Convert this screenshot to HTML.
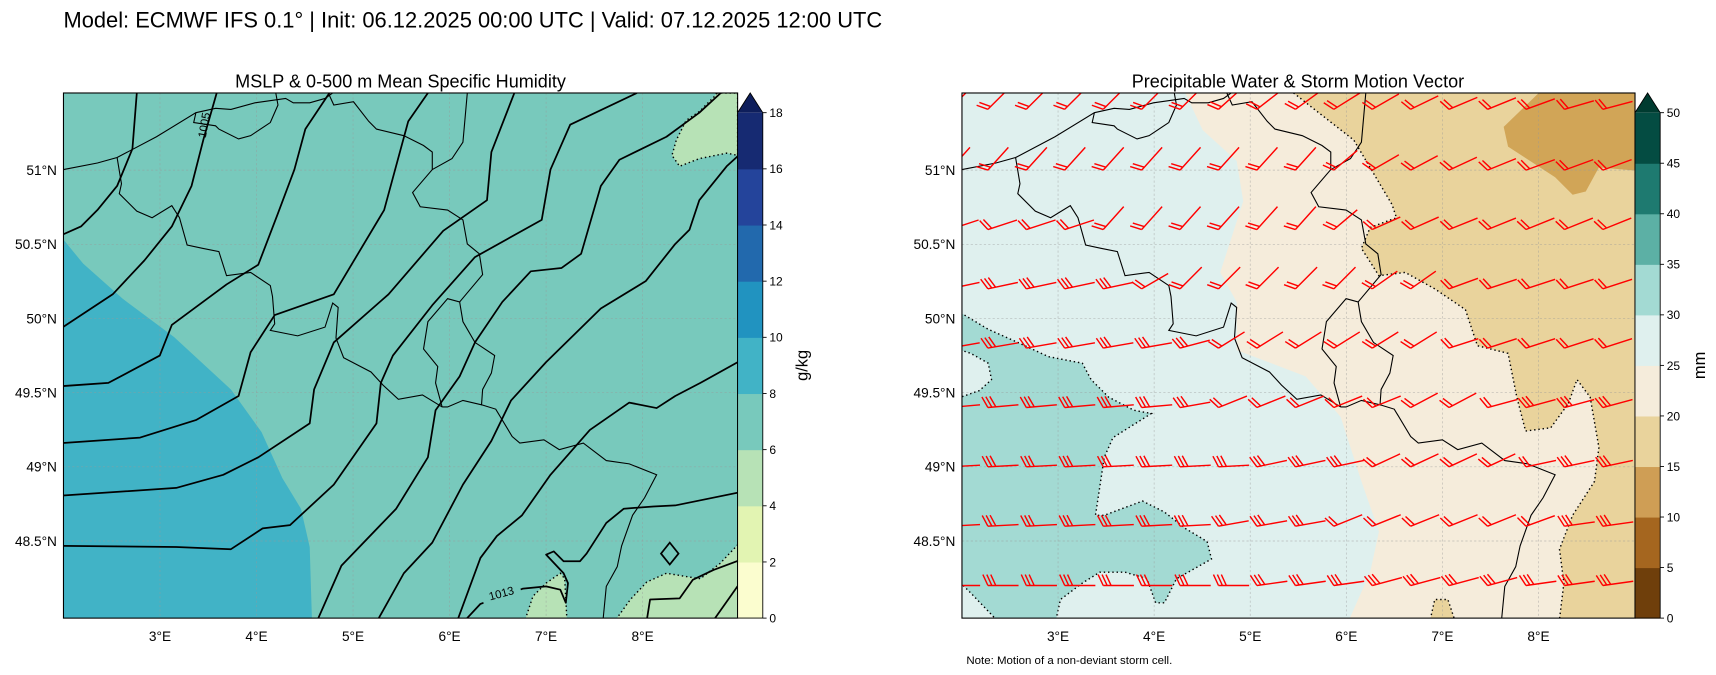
<!DOCTYPE html>
<html><head><meta charset="utf-8">
<style>
html,body{margin:0;padding:0;background:#fff;}
svg{display:block;font-family:"Liberation Sans","DejaVu Sans",sans-serif;}
</style></head>
<body>
<svg id="fig" width="1716" height="675" viewBox="0 0 1568 617" preserveAspectRatio="none" xmlns="http://www.w3.org/2000/svg">
<defs>
<clipPath id="clipL"><rect x="58" y="85" width="616" height="480"/></clipPath>
<clipPath id="clipR"><rect x="879" y="85" width="615" height="480"/></clipPath>
</defs>
<rect x="0" y="0" width="1568" height="617" fill="#fff"/>
<text x="58" y="25" font-size="20" fill="#000">Model: ECMWF IFS 0.1° | Init: 06.12.2025 00:00 UTC | Valid: 07.12.2025 12:00 UTC</text>
<text x="366" y="80" font-size="16.5" text-anchor="middle">MSLP &amp; 0-500 m Mean Specific Humidity</text>
<text x="1186" y="80" font-size="16.5" text-anchor="middle">Precipitable Water &amp; Storm Motion Vector</text>
<text x="883" y="607" font-size="10.5">Note: Motion of a non-deviant storm cell.</text>

<g id="left">
  <g clip-path="url(#clipL)">
    <rect x="58" y="85" width="616" height="480" fill="#78c9bc"/>
    <polygon fill="#41b3c6" points="58,219 76,241 112,273 159,308 211,356 239,395 258,437 275,465 283,500 285,565 58,565"/>
    <polygon fill="#b7e2b6" stroke="#000" stroke-width="1.3" stroke-dasharray="1.3 2.6" points="655,85 653,88 639,102 627,110 618,128 614,142 621,152 639,145 664,140 674,142 674,85"/>
    <polygon fill="#b7e2b6" stroke="#000" stroke-width="1.3" stroke-dasharray="1.3 2.6" points="480,566 487,545 499,533 512,524 516,529 518,566"/>
    <polygon fill="#b7e2b6" stroke="#000" stroke-width="1.3" stroke-dasharray="1.3 2.6" points="563,566 576,548 591,532 609,524 627,527 640,529 658,515 675,497 675,566"/>
    <g id="gridL"></g>
    <g id="bordersL" fill="none" stroke="#000" stroke-width="1"></g>
    <g id="isobars" fill="none" stroke="#000" stroke-width="1.6"></g>
    <polygon fill="none" stroke="#000" stroke-width="1.6" points="612,496 620,506 612,516 604,506"/>
  </g>
  <text x="190" y="115" font-size="10.5" transform="rotate(-80 190 115)" text-anchor="middle">1005</text>
  <rect x="440" y="536" width="36" height="13" fill="#78c9bc" transform="rotate(-15 458 542)"/>
  <text x="458" y="546" font-size="10.5" transform="rotate(-15 458 542)" text-anchor="middle">1013</text>
  <rect x="58" y="85" width="616" height="480" fill="none" stroke="#000" stroke-width="1"/>
  <g id="ticksL" font-size="12.5"></g>
  <g id="cbarL" font-size="11"></g>
  <text x="738" y="334" font-size="15" transform="rotate(-90 738 334)" text-anchor="middle">g/kg</text>
</g>

<g id="right">
  <g clip-path="url(#clipR)">
    <rect x="879" y="85" width="615" height="480" fill="#dff0ee"/>
    <polygon fill="#f5ecdb" points="1083,85 1099,119 1130,147 1136,184 1115,249 1130,276 1130,320 1193,344 1225,381 1244,440 1260,486 1252,523 1233,566 1495,566 1495,85"/>
    <polygon fill="#e9d39c" stroke="#000" stroke-width="1.3" stroke-dasharray="1.3 2.6" points="1182,85 1237,128 1272,187 1276,199 1252,208 1244,227 1260,252 1284,249 1311,264 1339,283 1350,316 1378,323 1386,363 1394,394 1417,391 1433,369 1441,347 1453,363 1461,409 1457,440 1437,471 1425,502 1429,533 1425,566 1496,566 1496,84 1182,84"/>
    <polygon fill="#d1a557" points="1406,85 1374,116 1378,134 1421,162 1437,178 1449,175 1461,153 1495,156 1495,85"/>
    <polygon fill="#e9d39c" stroke="#000" stroke-width="1.3" stroke-dasharray="1.3 2.6" points="1307,566 1311,548 1323,548 1329,566"/>
    <polygon fill="#a3dad3" stroke="#000" stroke-width="1.3" stroke-dasharray="1.3 2.6" points="878,286 903,301 930,313 958,326 989,332 997,347 1013,363 1036,375 1052,378 1017,400 1009,418 1001,471 1009,471 1044,458 1064,468 1083,483 1103,495 1107,511 1091,520 1075,529 1064,551 1056,551 1048,529 1028,523 1005,523 989,533 969,548 965,566 910,566 887,542 878,533 878,363 895,357 906,347 903,332 887,323 878,320"/>
    <g id="gridR"></g>
    <g id="bordersR" fill="none" stroke="#000" stroke-width="1" transform="translate(821,0)"></g>
    <g id="barbs" fill="none" stroke="#f00" stroke-width="1.3"></g>
  </g>
  <rect x="879" y="85" width="615" height="480" fill="none" stroke="#000" stroke-width="1"/>
  <g id="ticksR" font-size="12.5"></g>
  <g id="cbarR" font-size="11"></g>
  <text x="1558" y="334" font-size="15" transform="rotate(-90 1558 334)" text-anchor="middle">mm</text>
</g>
</svg>
<script>
// ---------- data ----------
const lonTicks = [3,4,5,6,7,8];
const latTicks = [51,50.5,50,49.5,49,48.5];
const humLevels = [0,2,4,6,8,10,12,14,16,18];
const humColors = ["#fbfdcf","#e2f4b2","#b7e2b6","#78c9bc","#41b3c6","#2193c0","#2269ad","#24449b","#162a72"];
const humExtend = "#0e1e5b";
const pwLevels = [0,5,10,15,20,25,30,35,40,45,50];
const pwColors = ["#6f3f0b","#a5661f","#cf9e55","#e9d39c","#f5ecdb","#dff0ee","#a3dad3","#5cb0a5","#1e7a70","#044c42"];
const pwExtend = "#003b30";
const barbLons = [1.87,2.27,2.67,3.07,3.47,3.87,4.27,4.67,5.07,5.47,5.87,6.27,6.67,7.07,7.47,7.87,8.27,8.67];
const barbLats = [51.41,51.0,50.6,50.2,49.8,49.4,49.0,48.6,48.2];
const barbDir = [
 [45,45,45,45,45,45,45,42,38,36,32,30,26,23,22,20,16,15],
 [48,48,48,48,48,48,48,48,48,48,40,30,28,25,22,20,20,20],
 [18,18,18,18,48,48,48,48,48,48,40,24,24,22,22,22,22,22],
 [12,12,12,12,12,30,45,45,45,45,45,35,35,20,18,18,18,18],
 [10,10,10,10,10,10,15,32,32,32,32,32,32,18,18,18,18,18],
 [5,5,5,5,5,5,10,22,22,22,22,22,28,28,15,15,15,15],
 [3,3,3,3,3,3,3,3,12,12,12,25,25,25,25,12,12,12],
 [3,3,3,3,3,3,3,10,10,10,22,22,22,22,22,20,8,8],
 [0,0,0,0,0,0,0,0,8,8,8,15,15,15,15,8,8,8]
];
const barbSpeed = [
 [20,20,20,20,20,20,20,20,20,20,20,20,20,20,20,20,20,20],
 [20,20,20,20,20,20,20,20,20,20,20,20,20,20,20,20,20,20],
 [20,20,20,20,20,20,20,20,20,20,20,20,20,20,20,20,20,20],
 [30,30,30,30,30,20,20,20,20,20,20,20,20,20,20,20,20,20],
 [30,30,30,30,30,30,30,20,20,20,20,20,20,20,20,20,20,20],
 [30,30,30,30,30,30,30,20,20,20,20,20,20,20,20,30,30,30],
 [30,30,30,30,30,30,30,30,30,30,30,20,20,20,20,20,30,30],
 [30,30,30,30,30,30,30,30,30,30,20,20,20,20,20,20,30,30],
 [30,30,30,30,30,30,30,30,30,30,30,30,30,30,30,30,30,30]
];
const isobarPaths = [
 [[125,85],[121,136],[107,170],[89,192],[74,207],[56,215]],
 [[198,85],[186,127],[175,170],[157,207],[132,238],[103,269],[56,300]],
 [[301,85],[279,118],[269,155],[254,195],[236,242],[207,260],[157,297],[146,325],[99,350],[56,353]],
 [[391,85],[373,111],[351,192],[305,269],[251,288],[229,322],[218,362],[179,384],[128,400],[56,405]],
 [[470,85],[449,139],[445,183],[405,211],[355,269],[305,313],[287,356],[283,387],[236,418],[204,434],[161,446],[56,453]],
 [[582,85],[521,114],[503,155],[495,201],[434,235],[395,279],[359,325],[348,350],[344,387],[305,443],[265,480],[240,483],[211,502],[161,500],[56,499]],
 [[664,80],[639,103],[609,125],[566,146],[549,170],[531,232],[513,245],[485,248],[459,276],[434,313],[420,344],[398,375],[391,418],[362,465],[312,517],[290,567]],
 [[676,141],[664,152],[639,183],[630,210],[617,223],[590,257],[549,282],[499,331],[467,366],[449,403],[423,443],[395,496],[369,524],[345,567]],
 [[676,330],[640,350],[617,362],[600,373],[575,368],[539,393],[503,434],[477,471],[454,490],[439,510],[418,567]],
 [[676,450],[617,462],[597,463],[570,465],[554,478],[536,506],[530,513],[515,513],[506,504],[499,507],[515,524],[519,533],[517,551],[512,539],[499,536],[478,538],[439,552],[425,567]],
 [[591,567],[594,548],[621,547],[633,530],[652,521],[676,512]],
 [[652,567],[676,533]]
];
const borderPaths = [
 [[58,155],[89,149],[107,144],[143,125],[179,103],[197,99],[211,100],[233,94],[254,91],[261,90],[268,94],[283,94],[297,90],[304,85]],
 [[179,103],[177,112],[197,115],[200,118],[218,127],[229,124],[247,112],[254,96],[252,85]],
 [[107,144],[111,168],[109,177],[125,193],[139,199],[157,188],[164,199],[171,224],[185,227],[200,230],[207,252],[229,249],[247,261],[249,271],[251,296],[247,302],[272,307],[297,299],[304,277],[309,281],[307,309],[314,327],[339,340],[350,352],[364,365],[386,361],[404,372]],
 [[404,372],[398,350],[400,335],[387,319],[391,294],[409,273],[420,276],[423,294],[434,313],[452,325],[449,341],[441,356],[440,370],[423,366],[409,372],[404,372]],
 [[420,276],[441,251],[438,232],[427,223],[423,201],[409,192],[384,189],[377,176],[395,155],[395,139],[387,133],[369,124],[344,118],[337,111],[323,93],[305,96],[300,85]],
 [[395,155],[413,145],[423,130],[427,85]],
 [[440,370],[453,374],[468,399],[475,405],[497,402],[511,411],[533,405],[554,421],[575,424],[600,434],[589,455],[578,471],[568,499],[564,518],[554,536],[551,567]]
];
// ---------- axes ----------
const xL = lon => 58 + (lon-2)*88.2;
const xR = lon => 879 + (lon-2)*87.8;
const yM = lat => 85 + (51.52-lat)*135.6;
const NS = "http://www.w3.org/2000/svg";
function mk(tag, attrs, parent){const e=document.createElementNS(NS,tag);for(const k in attrs)e.setAttribute(k,attrs[k]);parent.appendChild(e);return e;}
const pts = arr => arr.map(p=>p[0]+","+p[1]).join(" ");

[["gridL","ticksL",xL,58,674],["gridR","ticksR",xR,879,1494]].forEach(([gid,tid,xf,x0,x1])=>{
  const g=document.getElementById(gid), t=document.getElementById(tid);
  lonTicks.forEach(lon=>{
    const l=mk("line",{x1:xf(lon),x2:xf(lon),y1:85,y2:565,stroke:"#999","stroke-width":0.6,"stroke-dasharray":"2 2",opacity:0.6},g);
    
    
    const tx=mk("text",{x:xf(lon),y:586,"text-anchor":"middle"},t);
    tx.textContent=lon+"°E";
    
    
  });
  latTicks.forEach(lat=>{
    const l=mk("line",{x1:x0,x2:x1,y1:yM(lat),y2:yM(lat),stroke:"#999","stroke-width":0.6,"stroke-dasharray":"2 2",opacity:0.6},g);
    
    
    const tx=mk("text",{x:x0-6,y:yM(lat)+4.5,"text-anchor":"end"},t);
    tx.textContent=lat+"°N";
    
    
  });
});

["bordersL","bordersR"].forEach(id=>{
  const g=document.getElementById(id);
  borderPaths.forEach(p=>{
    const e=mk("polyline",{points:pts(p)},g);
    
    
  });
});

const ig=document.getElementById("isobars");
isobarPaths.forEach(p=>{
  const e=mk("polyline",{points:pts(p),"stroke-linejoin":"round"},ig);
  
  
});

function colorbar(id,x,levels,colors,ext){
  const g=document.getElementById(id);
  const top=103,bot=565,w=23;
  const vmin=levels[0],vmax=levels[levels.length-1];
  const yc=v=>bot-(v-vmin)/(vmax-vmin)*(bot-top);
  colors.forEach((c,i)=>{
    const r=mk("rect",{x:x,y:yc(levels[i+1]),width:w,height:yc(levels[i])-yc(levels[i+1])+0.5,fill:c},g);
    
    
  });
  const tri=mk("polygon",{points:`${x},${top} ${x+w/2},85 ${x+w},${top}`,fill:ext},g);
  
  
  const fr=mk("polygon",{points:`${x},${bot} ${x},${top} ${x+w/2},85 ${x+w},${top} ${x+w},${bot}`,fill:"none",stroke:"#000","stroke-width":0.8},g);
  
  
  levels.forEach(v=>{
    const tk=mk("line",{x1:x+w,x2:x+w+3.5,y1:yc(v),y2:yc(v),stroke:"#000","stroke-width":0.8},g);
    
    
    const tx=mk("text",{x:x+w+6,y:yc(v)+4},g);
    tx.textContent=v;
    
    
  });
}
colorbar("cbarL",674,humLevels,humColors,humExtend);
colorbar("cbarR",1494,pwLevels,pwColors,pwExtend);

const bg=document.getElementById("barbs");
const SHAFT=28, FL=11, FSP=3.6;
barbLats.forEach((lat,j)=>{
  barbLons.forEach((lon,i)=>{
    const a=barbDir[j][i]*Math.PI/180;
    const px=xR(lon), py=yM(lat);
    const dx=Math.cos(a), dy=-Math.sin(a);
    const b=a+115*Math.PI/180, fx=Math.cos(b), fy=-Math.sin(b);
    const n=Math.round(barbSpeed[j][i]/10);
    let d=`M${px.toFixed(1)},${py.toFixed(1)} L${(px+SHAFT*dx).toFixed(1)},${(py+SHAFT*dy).toFixed(1)}`;
    for(let k=0;k<n;k++){
      const sx=px+k*FSP*dx, sy=py+k*FSP*dy;
      d+=` M${sx.toFixed(1)},${sy.toFixed(1)} L${(sx+FL*fx).toFixed(1)},${(sy+FL*fy).toFixed(1)}`;
    }
    const e=mk("path",{d:d},bg);
    
    
  });
});
</script>
</body></html>
